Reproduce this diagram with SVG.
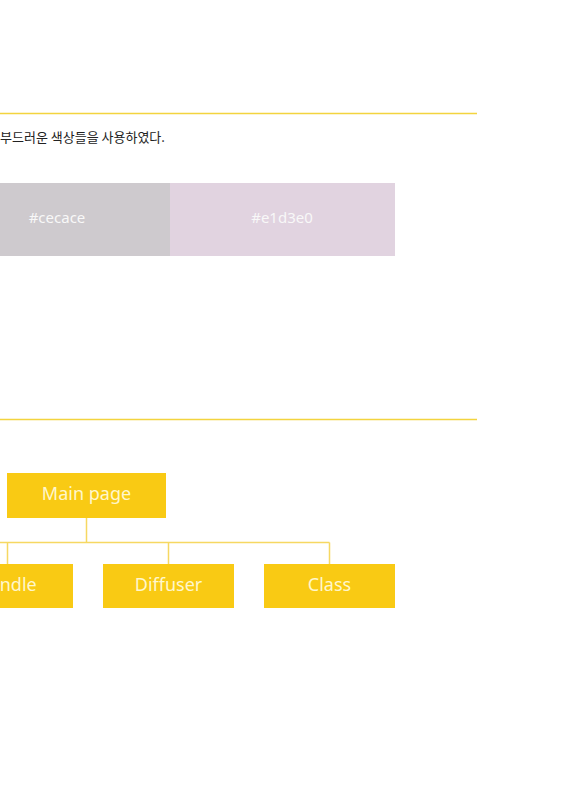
<svg xmlns="http://www.w3.org/2000/svg" width="561" height="793" viewBox="0 0 561 793">
<style>
.rule{stroke:#f3d43f;stroke-width:1.5;fill:none}
.box{fill:#f9ca14}
.lbl{font-family:"Noto Sans","Open Sans","Liberation Sans",sans-serif;font-size:18px;fill:#fff7cc;text-anchor:middle}
.sw{font-family:"Noto Sans","Open Sans","Liberation Sans",sans-serif;font-size:15px;fill:#f8f8f8;text-anchor:middle}
.conn{stroke:#f6d862;stroke-width:1.5;fill:none}
.kr{font-family:"Noto Sans CJK KR","Noto Sans",sans-serif;font-size:13px;fill:#222}
</style>
<rect width="561" height="793" fill="#ffffff"/>
<line class="rule" x1="0" y1="113.5" x2="477" y2="113.5"/>
<text class="kr" x="0" y="142">부드러운 색상들을 사용하였다.</text>
<g id="swatch-cecace">
<rect x="0" y="183" width="170" height="73" fill="#cecace"/>
<text class="sw" x="57" y="223">#cecace</text>
</g>
<g id="swatch-e1d3e0">
<rect x="170" y="183" width="225" height="73" fill="#e1d3e0"/>
<text class="sw" x="282" y="223">#e1d3e0</text>
</g>
<line class="rule" x1="0" y1="419.5" x2="477" y2="419.5"/>
<g id="connectors">
<path class="conn" d="M86.5 518 V542.5 M0 542.5 H329.5 M7.5 542.5 V564 M168.5 542.5 V564 M329.5 542.5 V564"/>
</g>
<g id="main-page">
<rect class="box" x="7" y="473" width="159" height="45"/>
<text class="lbl" x="86.5" y="500">Main page</text>
</g>
<g id="candle">
<rect class="box" x="-58" y="564" width="131" height="44"/>
<text class="lbl" x="7.5" y="591">Candle</text>
</g>
<g id="diffuser">
<rect class="box" x="103" y="564" width="131" height="44"/>
<text class="lbl" x="168.5" y="591">Diffuser</text>
</g>
<g id="class">
<rect class="box" x="264" y="564" width="131" height="44"/>
<text class="lbl" x="329.5" y="591">Class</text>
</g>
</svg>
